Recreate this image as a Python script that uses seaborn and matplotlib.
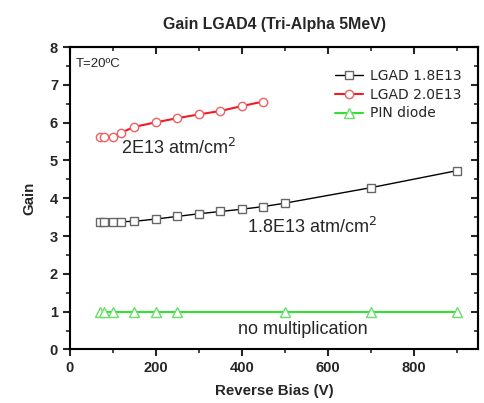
import numpy as np
import pandas as pd
import matplotlib
matplotlib.use('Agg')
import matplotlib.pyplot as plt
from matplotlib.ticker import MultipleLocator
import seaborn as sns

sns.set_style("white")
plt.rcParams['font.family'] = ['Liberation Sans', 'DejaVu Sans']

# data
bias_18 = [70, 80, 100, 120, 150, 200, 250, 300, 350, 400, 450, 500, 700, 900]
gain_18 = [3.36, 3.37, 3.37, 3.38, 3.39, 3.45, 3.52, 3.59, 3.65, 3.71, 3.78, 3.87, 4.28, 4.73]

bias_20 = [70, 80, 100, 120, 150, 200, 250, 300, 350, 400, 450]
gain_20 = [5.62, 5.62, 5.63, 5.74, 5.89, 6.01, 6.12, 6.22, 6.31, 6.44, 6.56]

bias_pin = [70, 80, 100, 150, 200, 250, 500, 700, 900]
gain_pin = [1.0, 1.0, 1.0, 1.0, 1.0, 1.0, 1.0, 1.0, 1.0]

fig = plt.figure(figsize=(4.85, 4.03), dpi=100)
ax = fig.add_axes([0.144, 0.133, 0.842, 0.750])

sns.lineplot(x=bias_18, y=gain_18, ax=ax, color='black', linewidth=1.0,
             marker='s', markersize=5.5, markerfacecolor='white',
             markeredgecolor='#666666', markeredgewidth=1.0, label='LGAD 1.8E13')
sns.lineplot(x=bias_20, y=gain_20, ax=ax, color='#ee1c24', linewidth=1.5,
             marker='o', markersize=6, markerfacecolor='white',
             markeredgecolor='#f06060', markeredgewidth=1.0, label='LGAD 2.0E13')
sns.lineplot(x=bias_pin, y=gain_pin, ax=ax, color='#33e033', linewidth=1.5,
             marker='^', markersize=6.5, markerfacecolor='white',
             markeredgecolor='#66e066', markeredgewidth=1.0, label='PIN diode')

ax.set_xlim(0, 950)
ax.set_ylim(0, 8)
ax.xaxis.set_major_locator(MultipleLocator(200))
ax.xaxis.set_minor_locator(MultipleLocator(100))
ax.yaxis.set_major_locator(MultipleLocator(1))
ax.yaxis.set_minor_locator(MultipleLocator(0.5))

# outer ticks on left/bottom, inner ticks on top/right
ax.tick_params(which='both', direction='out', bottom=True, left=True)
ax.tick_params(which='major', length=5, width=1.5)
ax.tick_params(which='minor', length=3, width=1.2)
ax2 = ax.secondary_xaxis('top')
ax2.xaxis.set_major_locator(MultipleLocator(200))
ax2.xaxis.set_minor_locator(MultipleLocator(100))
ax2.tick_params(which='both', direction='in', labeltop=False)
ax2.tick_params(which='major', length=5, width=1.5)
ax2.tick_params(which='minor', length=3, width=1.2)
ay2 = ax.secondary_yaxis('right')
ay2.yaxis.set_major_locator(MultipleLocator(1))
ay2.yaxis.set_minor_locator(MultipleLocator(0.5))
ay2.tick_params(which='both', direction='in', labelright=False)
ay2.tick_params(which='major', length=5, width=1.5)
ay2.tick_params(which='minor', length=3, width=1.2)
for sec in (ax2, ay2):
    for s in sec.spines.values():
        s.set_linewidth(1.5)

for t in ax.get_xticklabels() + ax.get_yticklabels():
    t.set_fontweight('bold')
    t.set_fontsize(10.5)
for s in ax.spines.values():
    s.set_linewidth(1.5)
    s.set_color('black')

ax.set_xlabel('Reverse Bias (V)', fontsize=10.8, fontweight='bold', labelpad=6)
ax.set_ylabel('Gain', fontsize=10.8, fontweight='bold', labelpad=10)
ax.set_title('Gain LGAD4 (Tri-Alpha 5MeV)', fontsize=11.4, fontweight='bold', pad=13)

ax.text(0.015, 0.965, 'T=20ºC', transform=ax.transAxes, fontsize=9.5,
        ha='left', va='top')
ax.text(120, 5.33, '2E13 atm/cm$^2$', fontsize=13, ha='left', va='center')
ax.text(412, 3.25, '1.8E13 atm/cm$^2$', fontsize=13, ha='left', va='center')
ax.text(391, 0.52, 'no multiplication', fontsize=13, ha='left', va='center')

ax.legend(loc='upper right', bbox_to_anchor=(0.99, 0.97), frameon=False,
          prop={'family': 'DejaVu Sans', 'size': 10}, handlelength=2.0,
          handletextpad=0.5, labelspacing=0.35)

fig.savefig('out.png', dpi=100)
